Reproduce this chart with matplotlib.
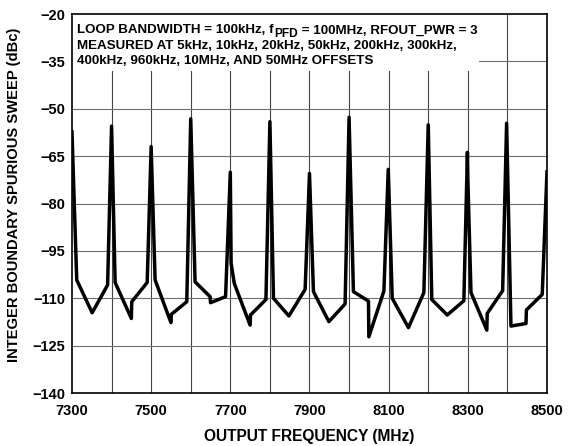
import matplotlib
matplotlib.use("Agg")
import matplotlib.pyplot as plt
from matplotlib.patches import Rectangle
from matplotlib.transforms import IdentityTransform

plt.rcParams['font.family'] = ['Liberation Sans', 'DejaVu Sans']
plt.rcParams['font.weight'] = 'bold'

# sweep trace (MHz, dBc)
freq = [7300, 7312, 7351, 7390, 7400, 7409, 7450, 7451, 7490, 7500,
        7510, 7550, 7551, 7590, 7600, 7611, 7649, 7650, 7688, 7700,
        7702, 7710, 7750, 7751, 7790, 7800, 7809, 7848, 7889, 7900,
        7910, 7949, 7990, 8000, 8011, 8049, 8050, 8088, 8099, 8109,
        8150, 8189, 8200, 8209, 8248, 8290, 8299, 8300, 8308, 8348,
        8349, 8388, 8398, 8409, 8447, 8448, 8488, 8500]
spur = [-57.3, -104.2, -114.6, -105.8, -55.5, -105.0, -116.4, -111.1, -105.0, -62.0,
        -104.2, -117.7, -115.1, -111.1, -53.2, -104.8, -109.5, -111.4, -109.5, -70.1,
        -98.9, -105.3, -118.5, -115.3, -110.4, -54.1, -110.0, -115.6, -107.2, -70.5,
        -107.9, -117.4, -111.8, -52.7, -107.9, -110.9, -122.2, -107.7, -69.2, -110.0,
        -119.3, -108.2, -55.1, -110.4, -115.3, -110.8, -63.8, -71.9, -108.2, -120.1,
        -114.8, -107.6, -54.6, -118.8, -118.0, -113.7, -108.8, -70.0]

xticks = [7300, 7500, 7700, 7900, 8100, 8300, 8500]
xgrid = [7400, 7500, 7600, 7700, 7800, 7900, 8000, 8100, 8200, 8300, 8400]
yticks = [-140, -125, -110, -95, -80, -65, -50, -35, -20]

line1 = ["LOOP BANDWIDTH = 100kHz, f", "PFD", " = 100MHz, RFOUT_PWR = 3"]
line2 = "MEASURED AT 5kHz, 10kHz, 20kHz, 50kHz, 200kHz, 300kHz,"
line3 = "400kHz, 960kHz, 10MHz, AND 50MHz OFFSETS"

fig = plt.figure(figsize=(5.69, 4.46), dpi=100)
ax = fig.add_axes([0.1265, 0.1188, 0.8348, 0.8498])

for g in xgrid:
    ax.axvline(g, color='#444444', lw=0.8, zorder=0.5)
for g in yticks[1:-1]:
    ax.axhline(g, color='#6e6e6e', lw=0.8, zorder=0.5)

# white area behind the note
ax.add_patch(Rectangle((7300, -38.0), 1027, 18, facecolor='white',
                       edgecolor='none', zorder=1))

ax.plot(freq, spur, color='black', lw=2.5, zorder=3)

ax.set_xlim(7300, 8500)
ax.set_ylim(-140, -20)
ax.set_xticks(xticks)
ax.set_yticks(yticks)
ax.set_yticklabels([str(v).replace('-', '\u2212') for v in yticks])
ax.tick_params(length=0, labelsize=10.5)
ax.tick_params(axis='x', pad=8)
ax.tick_params(axis='y', pad=5)
for s in ax.spines.values():
    s.set_linewidth(1.2)
    s.set_zorder(4)

ax.set_xlabel("OUTPUT FREQUENCY (MHz)", fontsize=11.2, fontweight='bold')
ax.xaxis.set_label_coords(0.5, -0.094)
ax.set_ylabel("INTEGER BOUNDARY SPURIOUS SWEEP (dBc)", fontsize=10.6,
              fontweight='bold')
ax.yaxis.set_label_coords(-0.108, 0.522)

# note text, placed in display pixels (origin at bottom left)
H = 446
fs = 9.6
r = fig.canvas.get_renderer()
x = 77
t = fig.text(x, H - 33.3, line1[0], transform=IdentityTransform(),
             fontsize=fs, va='baseline', ha='left', zorder=5)
x = t.get_window_extent(r).x1 + 0.5
t = fig.text(x, H - 36.7, line1[1], transform=IdentityTransform(),
             fontsize=fs * 0.9, va='baseline', ha='left', zorder=5)
x = t.get_window_extent(r).x1
fig.text(x, H - 33.3, line1[2], transform=IdentityTransform(),
         fontsize=fs, va='baseline', ha='left', zorder=5)
fig.text(77, H - 49.0, line2, transform=IdentityTransform(),
         fontsize=fs, va='baseline', ha='left', zorder=5)
fig.text(77, H - 64.5, line3, transform=IdentityTransform(),
         fontsize=fs, va='baseline', ha='left', zorder=5)

fig.savefig("out.png", dpi=100)
